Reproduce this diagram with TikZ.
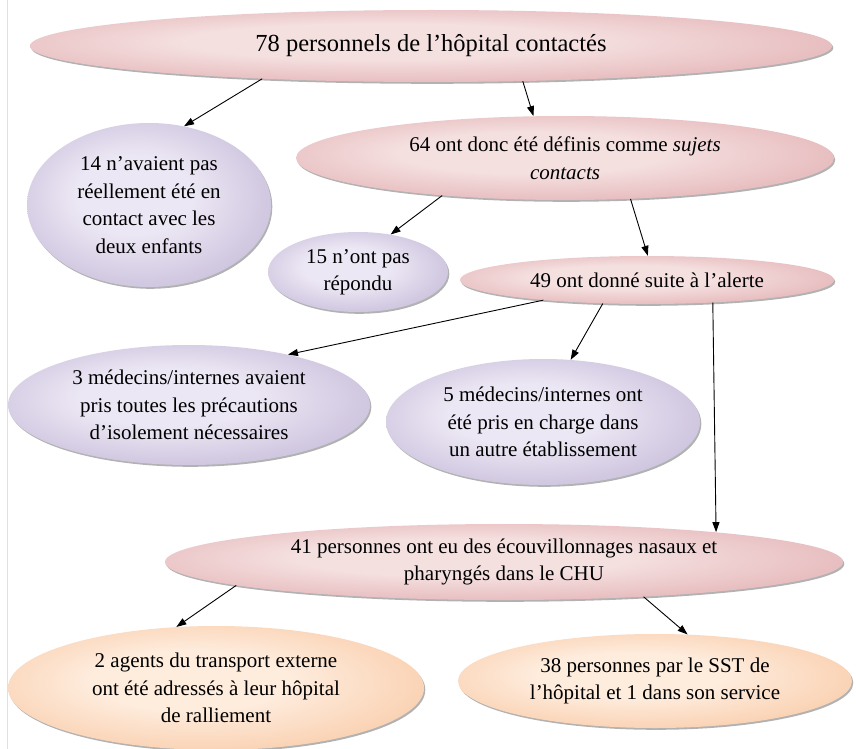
\documentclass[tikz,border=0pt]{standalone}
\usepackage{fontspec}
\setmainfont{Liberation Serif}
\usetikzlibrary{shapes.geometric,arrows.meta,shadows}
\definecolor{pinkO}{RGB}{210,134,140}
\definecolor{pinkI}{RGB}{245,224,224}
\definecolor{purO}{RGB}{160,144,190}
\definecolor{purI}{RGB}{236,231,244}
\definecolor{orO}{RGB}{244,170,115}
\definecolor{orI}{RGB}{254,236,221}
\pgfdeclareradialshading{pinkshade}{\pgfpoint{-4bp}{4bp}}{color(0bp)=(pinkI); color(12bp)=(pinkI); color(52bp)=(pinkO)}
\pgfdeclareradialshading{purshade}{\pgfpoint{-4bp}{4bp}}{color(0bp)=(purI); color(12bp)=(purI); color(52bp)=(purO)}
\pgfdeclareradialshading{orshade}{\pgfpoint{-4bp}{4bp}}{color(0bp)=(orI); color(12bp)=(orI); color(52bp)=(orO)}
\tikzset{
  blob/.style={ellipse, inner sep=0pt, draw=none,
    drop shadow={shadow xshift=1.3pt, shadow yshift=-1.8pt, opacity=0.3, fill=black}},
  pinkb/.style={blob, shade, shading=pinkshade},
  purb/.style={blob, shade, shading=purshade},
  orb/.style={blob, shade, shading=orshade},
  txt/.style={font=\fontsize{21}{27.5}\selectfont, align=center, inner sep=0pt, text=black},
  bigtxt/.style={font=\fontsize{24.5}{30}\selectfont, align=center, inner sep=0pt, text=black},
  arr/.style={-{Triangle[length=10pt,width=7pt]}, line width=0.9pt, black},
}
\begin{document}
\begin{tikzpicture}[x=1pt,y=-1pt]
\useasboundingbox (0,0) rectangle (856,749);
\fill[white] (0,0) rectangle (856,749);
\draw[black!12, line width=0.6pt] (7,0) -- (7,749);

\node[pinkb, minimum width=802pt, minimum height=72pt,
  label={[bigtxt]center:78 personnels de l’hôpital contactés}] (n78) at (431,46) {};
\node[purb, minimum width=244pt, minimum height=164pt,
  label={[txt]center:14 n’avaient pas\\réellement été en\\contact avec les\\deux enfants}] (n14) at (149,205) {};
\node[pinkb, minimum width=538pt, minimum height=84pt,
  label={[txt]center:64 ont donc été définis comme \textit{sujets}\\\textit{contacts}}] (n64) at (565,158) {};
\node[purb, minimum width=180pt, minimum height=80pt,
  label={[txt]center:15 n’ont pas\\répondu}] (n15) at (358,272) {};
\node[pinkb, minimum width=374pt, minimum height=48pt,
  label={[txt]center:49 ont donné suite à l’alerte}] (n49) at (647,280) {};
\node[purb, minimum width=362pt, minimum height=120pt,
  label={[txt]center:3 médecins/internes avaient\\pris toutes les précautions\\d’isolement nécessaires}] (n3) at (189,405) {};
\node[purb, minimum width=314pt, minimum height=126pt,
  label={[txt]center:5 médecins/internes ont\\été pris en charge dans\\un autre établissement}] (n5) at (543,422) {};
\node[pinkb, minimum width=678pt, minimum height=76pt,
  label={[txt]center:41 personnes ont eu des écouvillonnages nasaux et\\pharyngés dans le CHU}] (n41) at (504,562) {};
\node[orb, minimum width=416pt, minimum height=124pt,
  label={[txt]center:2 agents du transport externe\\ont été adressés à leur hôpital\\de ralliement}] (n2) at (216,688) {};
\node[orb, minimum width=394pt, minimum height=94pt,
  label={[txt]center:38 personnes par le SST de\\l’hôpital et 1 dans son service}] (n38) at (655,681) {};

\draw[arr] (n78.191.7) -- (n14.66);
\draw[arr] (n78.-21) -- (n64.127.5);
\draw[arr] (n64.197.7) -- (n15.49.4);
\draw[arr] (n64.-32.9) -- (n49.88);
\draw[arr] (n49.191.6) -- (n3.27.3);
\draw[arr] (n49.208.6) -- (n5.66.5);
\draw[arr] (n49.-19.7) -- (n41.8.2);
\draw[arr] (n41.185) -- (n2.123.3);
\draw[arr] (n41.-14) -- (n38.55.4);
\end{tikzpicture}
\end{document}
